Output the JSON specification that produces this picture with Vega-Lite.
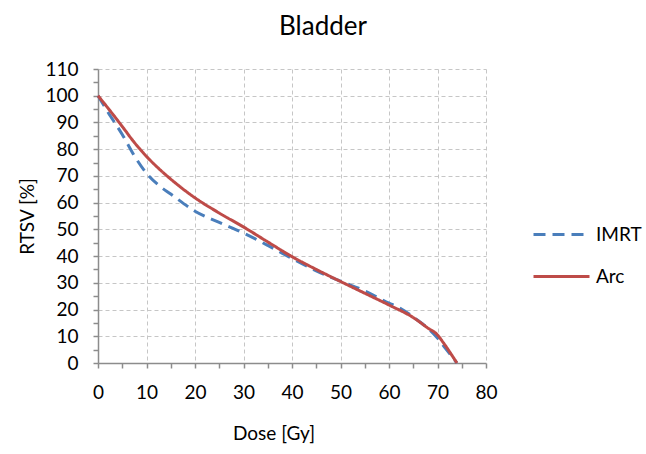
{
  "$schema": "https://vega.github.io/schema/vega-lite/v6.json",
  "width": 388,
  "height": 294,
  "autosize": "none",
  "padding": {"left": 98, "top": 69, "right": 160, "bottom": 91},
  "background": "white",
  "title": {"text": "Bladder", "fontSize": 26, "font": "Lato", "fontWeight": "normal", "color": "#000000", "dx": 31, "offset": 20, "anchor": "middle"},
  "data": {"values": [
    {"plan": "IMRT", "dose": 0, "rtsv": 100},
    {"plan": "IMRT", "dose": 2, "rtsv": 94},
    {"plan": "IMRT", "dose": 5, "rtsv": 85.5},
    {"plan": "IMRT", "dose": 7.5, "rtsv": 77.5},
    {"plan": "IMRT", "dose": 10, "rtsv": 71},
    {"plan": "IMRT", "dose": 12.5, "rtsv": 66.5},
    {"plan": "IMRT", "dose": 15, "rtsv": 63.2},
    {"plan": "IMRT", "dose": 20, "rtsv": 56.8},
    {"plan": "IMRT", "dose": 25, "rtsv": 52.6},
    {"plan": "IMRT", "dose": 30, "rtsv": 48.6},
    {"plan": "IMRT", "dose": 35, "rtsv": 44},
    {"plan": "IMRT", "dose": 40, "rtsv": 39.1},
    {"plan": "IMRT", "dose": 45, "rtsv": 34.5},
    {"plan": "IMRT", "dose": 50, "rtsv": 30.6},
    {"plan": "IMRT", "dose": 55, "rtsv": 27},
    {"plan": "IMRT", "dose": 60, "rtsv": 22.4},
    {"plan": "IMRT", "dose": 62, "rtsv": 20.8},
    {"plan": "IMRT", "dose": 65, "rtsv": 17.2},
    {"plan": "IMRT", "dose": 68, "rtsv": 13},
    {"plan": "IMRT", "dose": 70, "rtsv": 9.3},
    {"plan": "IMRT", "dose": 71.6, "rtsv": 5.6},
    {"plan": "IMRT", "dose": 74, "rtsv": 0},
    {"plan": "Arc", "dose": 0, "rtsv": 100},
    {"plan": "Arc", "dose": 2, "rtsv": 95.5},
    {"plan": "Arc", "dose": 5, "rtsv": 88.5},
    {"plan": "Arc", "dose": 7.5, "rtsv": 82.5},
    {"plan": "Arc", "dose": 10, "rtsv": 77.3},
    {"plan": "Arc", "dose": 12.5, "rtsv": 72.8},
    {"plan": "Arc", "dose": 15, "rtsv": 68.8},
    {"plan": "Arc", "dose": 20, "rtsv": 61.8},
    {"plan": "Arc", "dose": 25, "rtsv": 56.1},
    {"plan": "Arc", "dose": 30, "rtsv": 50.9},
    {"plan": "Arc", "dose": 35, "rtsv": 45.3},
    {"plan": "Arc", "dose": 40, "rtsv": 39.8},
    {"plan": "Arc", "dose": 45, "rtsv": 35},
    {"plan": "Arc", "dose": 50, "rtsv": 30.5},
    {"plan": "Arc", "dose": 55, "rtsv": 26.1},
    {"plan": "Arc", "dose": 60, "rtsv": 21.7},
    {"plan": "Arc", "dose": 65, "rtsv": 17},
    {"plan": "Arc", "dose": 68, "rtsv": 13.1},
    {"plan": "Arc", "dose": 70, "rtsv": 10.5},
    {"plan": "Arc", "dose": 71.2, "rtsv": 7.6},
    {"plan": "Arc", "dose": 74, "rtsv": 0}
  ]},
  "mark": {"type": "line", "strokeWidth": 3, "interpolate": "monotone"},
  "encoding": {
    "x": {"field": "dose", "type": "quantitative",
      "scale": {"domain": [0, 80], "nice": false},
      "axis": {"title": "Dose [Gy]", "values": [0,5,10,15,20,25,30,35,40,45,50,55,60,65,70,75,80],
        "labelExpr": "datum.value % 10 === 0 ? datum.label : ''",
        "gridOpacity": {"condition": {"test": "datum.value % 10 === 0 && datum.value > 0", "value": 1}, "value": 0},
        "titleX": 175.5, "titleY": 70, "titleAlign": "center", "titleBaseline": "middle"}},
    "y": {"field": "rtsv", "type": "quantitative",
      "scale": {"domain": [0, 110], "nice": false},
      "axis": {"title": "RTSV [%]", "values": [0,5,10,15,20,25,30,35,40,45,50,55,60,65,70,75,80,85,90,95,100,105,110],
        "labelExpr": "datum.value % 10 === 0 ? datum.label : ''",
        "gridOpacity": {"condition": {"test": "datum.value % 10 === 0 && datum.value > 0", "value": 1}, "value": 0},
        "titleX": -71, "titleY": 147, "titleAngle": 270, "titleAlign": "center", "titleBaseline": "middle"}},
    "color": {"field": "plan", "type": "nominal",
      "scale": {"domain": ["IMRT", "Arc"], "range": ["#4a7ebb", "#be4b48"]},
      "legend": {"title": null, "orient": "none", "legendX": 434, "legendY": 136}},
    "strokeDash": {"field": "plan", "type": "nominal",
      "scale": {"domain": ["IMRT", "Arc"], "range": [[12, 7], [1, 0]]},
      "legend": {"title": null, "orient": "none", "legendX": 434, "legendY": 136}}
  },
  "config": {
    "font": "Lato",
    "view": {"stroke": null},
    "axis": {
      "domainColor": "#8c8c8c", "domainWidth": 1.5, "tickColor": "#8c8c8c", "tickWidth": 1.5, "tickSize": 5,
      "gridColor": "#c6c6c6", "gridDash": [4, 3], "gridWidth": 1,
      "labelFont": "Lato", "labelFontSize": 19, "labelColor": "#000000", "labelPadding": 15,
      "titleFont": "Lato", "titleFontSize": 19, "titleFontWeight": "normal", "titleColor": "#000000",
      "labelFlush": false, "labelOverlap": false
    },
    "legend": {
      "symbolType": "stroke", "symbolSize": 3136, "symbolStrokeWidth": 3,
      "labelFont": "Lato", "labelFontSize": 19, "labelColor": "#000000", "labelOffset": 5,
      "rowPadding": 2, "padding": 0
    }
  }
}
